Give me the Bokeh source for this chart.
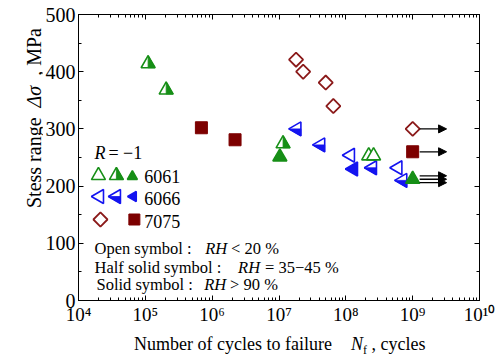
import math
from bokeh.plotting import figure
from bokeh.layouts import row, column
from bokeh.models import (LinearAxis, LogAxis, FixedTicker, Range1d, CustomJSTickFormatter,
                          Arrow, NormalHead, Label, ColumnDataSource, Div)
from bokeh.embed import file_html
from bokeh.resources import INLINE

# ---------------- data ----------------
# 6061 (up triangles)
n6061_open = [2.2e8, 2.6e8]
s6061_open = [253, 253]
n6061_half = [1.1e5, 2.05e5, 1.15e7]
s6061_half = [414, 368, 274]
n6061_solid = [1.03e7, 1.0e9]
s6061_solid = [251, 212]
# 6066 (left triangles)
n6066_open = [1.17e8, 6.0e8]
s6066_open = [254, 232]
n6066_half = [1.85e7, 4.2e7, 2.5e8, 7.1e8]
s6066_half = [300, 272, 232, 210]
n6066_solid = [1.3e8]
s6066_solid = [230]
# 7075 (diamonds open, squares solid)
n7075_open = [1.8e7, 2.3e7, 5.0e7, 6.5e7, 1.0e9]
s7075_open = [421, 400, 381, 340, 300]
n7075_solid = [6.9e5, 2.2e6, 1.0e9]
s7075_solid = [302, 281, 260]
# run-outs (unbroken at 1e9 cycles)
runout_n = [1e9, 1e9, 1e9, 1e9, 1e9]
runout_s = [300, 260, 218, 212, 206]

x_ticks = [1e4, 1e5, 1e6, 1e7, 1e8, 1e9, 1e10]
y_ticks = [0, 100, 200, 300, 400, 500]
y_minor = [50, 150, 250, 350, 450]

# ---------------- layout ----------------
OX = 42                 # width of the y-title strip
W, H = 500 - OX, 327    # figure size
BL, BR, BT, BB = 77 - OX, 21, 14, 27
FW = W - BL - BR
FH = H - BT - BB
X0, X1 = 1e4, 1e10
Y0, Y1 = 0, 500
DEC = FW / math.log10(X1 / X0)
YPX = FH / (Y1 - Y0)

def sx(px):   # page pixel -> data x
    return 10 ** (math.log10(X0) + (px - OX - BL) / DEC)

def sy(py):   # page pixel -> data y
    return Y0 + (BT + FH - py) / YPX

GREEN = "#178f17"
BLUE = "#1414f0"
RED = "#8b1a1a"
SQ = "#7d0000"
SERIF = "Liberation Serif"

p = figure(width=W, height=H, x_axis_type="log", output_backend="svg",
           toolbar_location=None, x_range=Range1d(X0, X1), y_range=Range1d(Y0, Y1),
           min_border_left=BL, min_border_right=BR, min_border_top=BT, min_border_bottom=BB,
           margin=0)
p.xgrid.visible = False
p.ygrid.visible = False
p.outline_line_color = "black"
p.background_fill_color = "white"
p.border_fill_color = "white"

minor_x = [k * 10 ** d for d in range(4, 10) for k in range(2, 10)]
xt = FixedTicker(ticks=x_ticks, minor_ticks=minor_x)
yt = FixedTicker(ticks=y_ticks, minor_ticks=y_minor)

sup = CustomJSTickFormatter(code="""
const s = {'0':'\u2070','1':'\u00b9','2':'\u00b2','3':'\u00b3','4':'\u2074','5':'\u2075','6':'\u2076','7':'\u2077','8':'\u2078','9':'\u2079'};
const e = String(Math.round(Math.log10(tick)));
let o = '';
for (const c of e) { o += s[c]; }
return '10' + o;
""")

def style_axis(ax, labels=True, fs="19px"):
    ax.axis_line_color = "black"
    ax.major_tick_in = 5
    ax.major_tick_out = 0
    ax.minor_tick_in = 3
    ax.minor_tick_out = 0
    ax.major_tick_line_color = "black"
    ax.minor_tick_line_color = "black"
    ax.major_label_text_font = SERIF
    ax.major_label_text_color = "black"
    ax.major_label_text_font_size = fs
    if not labels:
        ax.major_label_text_color = None
        ax.major_label_text_font_size = "2px"
        ax.major_label_standoff = 0

p.xaxis.ticker = xt
p.xaxis.formatter = sup
style_axis(p.xaxis[0], fs="19px")
p.xaxis.major_label_standoff = 3
p.yaxis.ticker = yt
style_axis(p.yaxis[0], fs="20px")
p.yaxis.major_label_standoff = 3

top = LogAxis(ticker=FixedTicker(ticks=x_ticks, minor_ticks=minor_x))
style_axis(top, labels=False)
p.add_layout(top, "above")
right = LinearAxis(ticker=FixedTicker(ticks=y_ticks, minor_ticks=y_minor))
style_axis(right, labels=False)
p.add_layout(right, "right")

# ---------------- helpers for half-solid markers ----------------
def half_patch(xs, ys, size, kind):
    r = size / 2
    if kind == "up":
        pts = [(0, 1.1547 * r), (0, -0.5774 * r), (r, -0.5774 * r)]
    else:
        pts = [(-1.1547 * r, 0), (0.5774 * r, 0), (0.5774 * r, -r)]
    px, py = [], []
    for x, y in zip(xs, ys):
        px.append([x * 10 ** (dx / DEC) for dx, dy in pts])
        py.append([y + dy / YPX for dx, dy in pts])
    return px, py

TS = 14
LEFT = math.pi / 2

def draw_up(xs, ys, kind, size=TS, lw=1.6):
    if kind == "open":
        p.scatter(xs, ys, marker="triangle", size=size, line_color=GREEN, fill_color="white", line_width=lw)
    elif kind == "solid":
        p.scatter(xs, ys, marker="triangle", size=size, line_color=GREEN, fill_color=GREEN, line_width=lw)
    else:
        p.scatter(xs, ys, marker="triangle", size=size, line_color=GREEN, fill_color="white", line_width=lw)
        hx, hy = half_patch(xs, ys, size, "up")
        p.patches(hx, hy, fill_color=GREEN, line_color=GREEN, line_width=0.8)

def draw_left(xs, ys, kind, size=TS, lw=1.6):
    if kind == "open":
        p.scatter(xs, ys, marker="triangle", angle=LEFT, size=size, line_color=BLUE, fill_color="white", line_width=lw)
    elif kind == "solid":
        p.scatter(xs, ys, marker="triangle", angle=LEFT, size=size, line_color=BLUE, fill_color=BLUE, line_width=lw)
    else:
        p.scatter(xs, ys, marker="triangle", angle=LEFT, size=size, line_color=BLUE, fill_color="white", line_width=lw)
        hx, hy = half_patch(xs, ys, size, "left")
        p.patches(hx, hy, fill_color=BLUE, line_color=BLUE, line_width=0.8)

def draw_diamond(xs, ys, size=10):
    p.scatter(xs, ys, marker="square", angle=math.pi / 4, size=size, line_color=RED,
              fill_color="white", line_width=1.8)

def draw_square(xs, ys, size=12):
    p.scatter(xs, ys, marker="square", size=size, line_color=SQ, fill_color=SQ, line_width=1)

# ---------------- run-out arrows ----------------
src = ColumnDataSource(dict(
    x0=[n * 10 ** (7 / DEC) for n in runout_n],
    x1=[n * 10 ** (34 / DEC) for n in runout_n],
    y=runout_s))
p.add_layout(Arrow(end=NormalHead(size=8, fill_color="black", line_color="black"),
                   x_start="x0", y_start="y", x_end="x1", y_end="y", source=src,
                   line_color="black", line_width=1.3))

# ---------------- data marks ----------------
draw_square(n7075_solid, s7075_solid)
draw_diamond(n7075_open, s7075_open)
draw_left(n6066_open, s6066_open, "open")
draw_left(n6066_half, s6066_half, "half")
draw_left(n6066_solid, s6066_solid, "solid")
draw_up(n6061_open, s6061_open, "open")
draw_up(n6061_half, s6061_half, "half")
draw_up(n6061_solid, s6061_solid, "solid")

# ---------------- legend (drawn inside the frame) ----------------
draw_up([sx(97)], [sy(175)], "open")
draw_up([sx(115)], [sy(175)], "half")
draw_up([sx(131)], [sy(176)], "solid", size=10)
draw_left([sx(98)], [sy(196)], "open")
draw_left([sx(115)], [sy(196)], "half")
draw_left([sx(132)], [sy(196)], "solid", size=10)
draw_diamond([sx(99)], [sy(219)])
draw_square([sx(133)], [sy(219)], size=11)

DY = -5
def lab(text, px, py, size, style="normal"):
    p.add_layout(Label(x=sx(px), y=sy(py + DY), text=text, text_font=SERIF, text_font_size=size,
                       text_font_style=style, text_align="left", text_baseline="alphabetic",
                       text_color="black"))

lab("R", 93, 157, "18px", "italic")
lab("= \u22121", 107, 157, "18px")
lab("6061", 143, 181, "18px")
lab("6066", 143, 203, "18px")
lab("7075", 143, 226, "18px")

lab("Open symbol :", 93, 253, "16.5px")
lab("RH", 204, 253, "16.5px", "italic")
lab("<  20 %", 230, 253, "16.5px")
lab("Half solid symbol :", 93, 272, "16.5px")
lab("RH", 237, 272, "16.5px", "italic")
lab("=  35\u221245 %", 264, 272, "16.5px")
lab("Solid symbol :", 95, 289, "16.5px")
lab("RH", 203, 289, "16.5px", "italic")
lab(">  90 %", 229, 289, "16.5px")

# ---------------- axis titles as HTML text ----------------
FONT = "font-family:'Liberation Serif',serif;color:#000;white-space:nowrap;"
ytitle = Div(width=OX, height=H, margin=0, text=(
    f'<div style="position:relative;width:{OX}px;height:{H}px;">'
    f'<div style="position:absolute;left:24px;top:208px;transform:rotate(-90deg);'
    f'transform-origin:0 0;{FONT}font-size:20px;line-height:20px;">'
    'Stess range&nbsp;&nbsp;<i>\u0394\u03c3</i>&nbsp;&nbsp;, MPa</div></div>'))
xtitle = Div(width=500, height=358 - H, margin=0, text=(
    f'<div style="position:relative;width:500px;height:{358 - H}px;">'
    f'<div style="position:absolute;left:134px;top:8px;{FONT}font-size:18px;line-height:18px;">'
    'Number of cycles to failure<span style="margin-left:19px"><i>N</i></span>'
    '<span style="font-size:12px;position:relative;top:4px;">f</span>'
    '&nbsp;, cycles</div></div>'))

layout = column(row(ytitle, p, spacing=0, margin=0), xtitle, spacing=0, margin=0)

open("out.html", "w").write(file_html(layout, INLINE))
